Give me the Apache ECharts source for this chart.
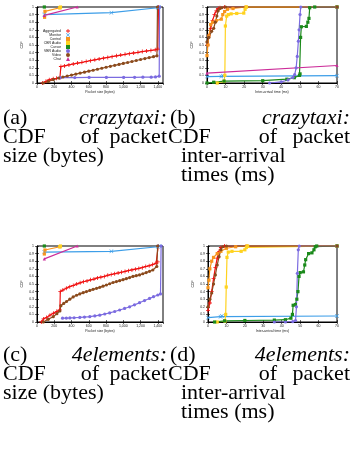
<!DOCTYPE html>
<html>
<head>
<meta charset="utf-8">
<script src="https://cdn.jsdelivr.net/npm/echarts@6/dist/echarts.min.js"></script>
<style>
  html, body { margin: 0; padding: 0; background: #fff; }
  #chart { width: 353px; height: 450px; }
</style>
</head>
<body>
<div id="chart"></div>
<script>
const seriesNames = ['Aggregated', 'Monitor', 'Control', 'CBR Audio', 'Cursor', 'VBR Audio', 'Video', 'Chat'];
const seriesColors = ['#f01010', '#3d9ee8', '#f7941d', '#ffd21f', '#1b8a1b', '#7b6be0', '#8b4a1c', '#cc2c99'];

// (a) crazytaxi, packet size (bytes)
const taxiSizeAggregated = [[65,0],[104,0.022],[142,0.043],[188,0.057],[227,0.061],[265,0.065],[277,0.217],[320,0.225],[370,0.238],[420,0.25],[470,0.262],[520,0.272],[570,0.283],[620,0.294],[670,0.305],[720,0.316],[770,0.327],[820,0.337],[870,0.347],[920,0.357],[970,0.367],[1020,0.377],[1070,0.386],[1120,0.395],[1170,0.404],[1220,0.413],[1270,0.421],[1320,0.429],[1370,0.437],[1400,0.445],[1408,1]];
const taxiSizeMonitor = [[85,0.9],[862,0.925],[1400,0.99],[1412,1]];
const taxiSizeControl = [[88,0.865],[92,0.943],[265,0.99]];
const taxiSizeCbrAudio = [[265,0.99],[272,1]];
const taxiSizeCursor = [[85,1]];
const taxiSizeVbrAudio = [[270,0.07],[438,0.072],[604,0.073],[804,0.073],[1004,0.074],[1131,0.075],[1227,0.076],[1323,0.077],[1373,0.08],[1416,0.09],[1420,1]];
const taxiSizeVideo = [[73,0],[130,0.02],[190,0.045],[250,0.066],[300,0.079],[350,0.092],[400,0.104],[450,0.117],[500,0.13],[550,0.143],[600,0.156],[650,0.168],[700,0.181],[750,0.194],[800,0.207],[850,0.22],[900,0.232],[950,0.245],[1000,0.258],[1050,0.27],[1100,0.283],[1150,0.296],[1200,0.309],[1250,0.322],[1300,0.334],[1350,0.347],[1390,0.357],[1396,1]];
const taxiSizeChat = [[85,0.89],[465,1]];

// (b) crazytaxi, inter-arrival time (ms)
const taxiTimeAggregated = [[0.3,0.5],[1,0.62],[2,0.72],[3,0.82],[4,0.9],[5,0.95],[6,0.98],[7,0.99],[9.5,1],[70,1]];
const taxiTimeMonitor = [[0,0.085],[7.7,0.087],[8.5,0.097],[70,0.097]];
const taxiTimeControl = [[0,0.36],[0.5,0.5],[1,0.62],[2,0.77],[3,0.8],[5,0.82],[7.7,0.84],[8.5,0.9],[9.5,0.94],[11,0.97],[14,0.98],[21,1],[70,1]];
const taxiTimeCbrAudio = [[5.5,0],[9.2,0.02],[9.6,0.1],[9.9,0.75],[10.6,0.88],[11.5,0.9],[13,0.91],[16,0.915],[19.8,0.92],[20.5,0.97],[21.2,1],[70,1]];
const taxiTimeCursor = [[0,0],[3.6,0.01],[9.2,0.025],[30,0.03],[43,0.05],[47,0.07],[49.8,0.1],[50.1,0.12],[50.4,0.6],[50.8,0.74],[53.5,0.745],[54.3,0.8],[54.9,0.85],[55.3,0.99],[58,1],[70,1]];
const taxiTimeVbrAudio = [[33.7,0],[40,0.015],[43.6,0.04],[46.3,0.075],[47.2,0.11],[48,0.2],[48.6,0.35],[49.2,0.55],[49.6,0.7],[50.1,0.9],[50.5,1],[70,1]];
const taxiTimeVideo = [[0,0.54],[1,0.6],[2.5,0.68],[3.6,0.72],[4.5,0.8],[5.3,0.88],[6,0.95],[7,0.98],[8,0.99],[10,1],[70,1]];
const taxiTimeChat = [[0,0.13],[70,0.23]];

// (c) 4elements, packet size (bytes)
const elemSizeAggregated = [[50,0],[75,0.04],[110,0.06],[150,0.09],[190,0.115],[230,0.14],[265,0.16],[270,0.4],[300,0.42],[340,0.445],[380,0.465],[420,0.48],[460,0.5],[500,0.515],[540,0.53],[580,0.54],[620,0.555],[660,0.565],[700,0.58],[740,0.59],[780,0.6],[820,0.615],[860,0.625],[900,0.635],[940,0.645],[980,0.655],[1020,0.665],[1060,0.675],[1100,0.685],[1140,0.695],[1180,0.705],[1220,0.715],[1260,0.73],[1300,0.74],[1340,0.755],[1380,0.775],[1400,0.79],[1405,1]];
const elemSizeMonitor = [[85,0.92],[862,0.93],[1400,0.99],[1420,1]];
const elemSizeControl = [[85,0.895],[92,0.947],[265,0.99]];
const elemSizeCbrAudio = [[265,0.99],[272,1]];
const elemSizeCursor = [[85,1]];
const elemSizeVbrAudio = [[296,0.05],[340,0.052],[381,0.053],[430,0.056],[496,0.06],[550,0.065],[612,0.07],[670,0.08],[727,0.09],[785,0.105],[842,0.12],[900,0.138],[958,0.158],[1015,0.178],[1073,0.2],[1130,0.226],[1188,0.254],[1246,0.282],[1304,0.31],[1350,0.333],[1400,0.355],[1431,0.37],[1438,1]];
const elemSizeVideo = [[73,0],[130,0.035],[188,0.07],[230,0.11],[265,0.145],[277,0.215],[310,0.245],[342,0.27],[380,0.3],[419,0.33],[458,0.352],[496,0.37],[535,0.386],[573,0.4],[612,0.415],[650,0.43],[690,0.443],[727,0.456],[765,0.472],[804,0.487],[842,0.503],[881,0.52],[920,0.532],[958,0.544],[997,0.557],[1035,0.57],[1073,0.585],[1112,0.6],[1150,0.61],[1188,0.62],[1226,0.635],[1265,0.65],[1304,0.667],[1342,0.684],[1388,0.73],[1398,1]];
const elemSizeChat = [[85,0.83],[465,1]];

// (d) 4elements, inter-arrival time (ms)
const elemTimeAggregated = [[0,0.15],[1,0.25],[2,0.4],[3,0.57],[4,0.72],[5,0.84],[6,0.93],[7,0.98],[9,1],[70,1]];
const elemTimeMonitor = [[0,0.057],[6.8,0.07],[7.5,0.079],[70,0.079]];
const elemTimeControl = [[0,0.45],[0.5,0.55],[1,0.7],[2,0.8],[3,0.85],[5,0.9],[7,0.93],[10,0.97],[15,0.99],[21,1],[70,1]];
const elemTimeCbrAudio = [[5,0],[9.2,0.01],[9.6,0.1],[9.9,0.46],[10.3,0.85],[11,0.92],[13,0.93],[18,0.93],[20,0.95],[20.8,0.98],[21.5,1],[70,1]];
const elemTimeCursor = [[3.6,0],[9,0.015],[20,0.02],[36,0.025],[42,0.03],[45,0.05],[45.8,0.1],[46.2,0.22],[47.4,0.23],[48.2,0.3],[48.8,0.4],[49.4,0.6],[50,0.65],[51.8,0.66],[52.5,0.75],[53,0.82],[54.6,0.9],[56.4,0.91],[57.5,0.95],[58.2,0.99],[59,1],[70,1]];
const elemTimeVbrAudio = [[36,0],[42,0],[46,0.005],[47.5,0.02],[48,0.2],[48.5,0.64],[49,0.95],[49.5,1],[70,1]];
const elemTimeVideo = [[0,0.2],[1,0.3],[2,0.38],[3,0.5],[4,0.62],[5,0.75],[6,0.86],[7,0.95],[8,0.99],[10,1],[70,1]];
const elemTimeChat = [];

const plots = [
  [taxiSizeAggregated, taxiSizeMonitor, taxiSizeControl, taxiSizeCbrAudio, taxiSizeCursor, taxiSizeVbrAudio, taxiSizeVideo, taxiSizeChat],
  [taxiTimeAggregated, taxiTimeMonitor, taxiTimeControl, taxiTimeCbrAudio, taxiTimeCursor, taxiTimeVbrAudio, taxiTimeVideo, taxiTimeChat],
  [elemSizeAggregated, elemSizeMonitor, elemSizeControl, elemSizeCbrAudio, elemSizeCursor, elemSizeVbrAudio, elemSizeVideo, elemSizeChat],
  [elemTimeAggregated, elemTimeMonitor, elemTimeControl, elemTimeCbrAudio, elemTimeCursor, elemTimeVbrAudio, elemTimeVideo, elemTimeChat]
];

const plusPath = 'path://M4,0H6V4H10V6H6V10H4V6H0V4H4Z';
const crossPath = 'path://M1,0L5,4L9,0L10,1L6,5L10,9L9,10L5,6L1,10L0,9L4,5L0,1Z';
const symbols = [plusPath, crossPath, 'rect', 'rect', 'rect', 'circle', 'circle', 'triangle'];

const grids = [
  { left: 37, top: 7, width: 126, height: 76 },
  { left: 207, top: 7, width: 130, height: 76 },
  { left: 37, top: 246, width: 126, height: 76 },
  { left: 208, top: 246, width: 129, height: 76 }
];
const isSize = [true, false, true, false];

const tickFont = { fontSize: 3.5, color: '#222', fontFamily: 'Liberation Sans' };
const tickStyle = { inside: true, length: 2, lineStyle: { color: '#000', width: 0.6 } };

const xAxes = [], yAxes = [];
grids.forEach((g, i) => {
  xAxes.push({
    type: 'value', gridIndex: i, min: 0, max: isSize[i] ? 1460 : 70, interval: isSize[i] ? 200 : 10,
    name: isSize[i] ? 'Packet size (bytes)' : 'Inter-arrival time (ms)',
    nameLocation: 'middle', nameGap: 7, nameTextStyle: tickFont,
    axisLine: { lineStyle: { color: '#000', width: 1 } },
    axisTick: tickStyle,
    axisLabel: Object.assign({ margin: 2, showMaxLabel: !isSize[i] }, tickFont),
    splitLine: { show: false }
  });
  yAxes.push({
    type: 'value', gridIndex: i, min: 0, max: 1, interval: 0.1,
    name: 'CDF', nameLocation: 'middle', nameGap: 13, nameTextStyle: tickFont,
    axisLine: { lineStyle: { color: '#000', width: 1 } },
    axisTick: tickStyle,
    axisLabel: Object.assign({ margin: 3 }, tickFont),
    splitLine: { show: false }
  });
});
// mirrored tick marks on top and right edges, like gnuplot
grids.forEach((g, i) => {
  xAxes.push({
    type: 'value', gridIndex: i, position: 'top', min: 0, max: isSize[i] ? 1460 : 70,
    interval: isSize[i] ? 200 : 10,
    axisLine: { show: false }, axisLabel: { show: false }, splitLine: { show: false },
    axisTick: tickStyle
  });
  yAxes.push({
    type: 'value', gridIndex: i, position: 'right', min: 0, max: 1, interval: 0.1,
    axisLine: { show: false }, axisLabel: { show: false }, splitLine: { show: false },
    axisTick: tickStyle
  });
});

const series = [];
plots.forEach((sets, gi) => {
  sets.forEach((data, si) => {
    series.push({
      name: seriesNames[si],
      type: 'line',
      xAxisIndex: gi,
      yAxisIndex: gi,
      data: data,
      symbol: symbols[si],
      symbolSize: si === 0 || si === 1 ? 4 : 3.2,
      showAllSymbol: true,
      lineStyle: { width: 1.2, color: seriesColors[si] },
      itemStyle: { color: seriesColors[si] },
      animation: false,
      silent: true
    });
  });
});

const serif = 'Liberation Serif';
const capSize = 22;
function word(text, x, y, align, italic) {
  return {
    type: 'text', x: x, y: y,
    style: {
      text: text, fill: '#000', font: (italic ? 'italic ' : '') + capSize + 'px "' + serif + '"',
      align: align, verticalAlign: 'middle'
    }
  };
}
function captionBlock(label1, label2, name, y0) {
  const dy = 19;
  return [
    word(label1, 3, y0, 'left'),
    word(name, 167, y0, 'right', true),
    word('CDF', 3, y0 + dy, 'left'),
    word('of', 90, y0 + dy, 'center'),
    word('packet', 167, y0 + dy, 'right'),
    word('size (bytes)', 3, y0 + 2 * dy, 'left'),
    word(label2, 170, y0, 'left'),
    word(name, 350, y0, 'right', true),
    word('CDF', 168, y0 + dy, 'left'),
    word('of', 268, y0 + dy, 'center'),
    word('packet', 350, y0 + dy, 'right'),
    word('inter-arrival', 181, y0 + 2 * dy, 'left'),
    word('times (ms)', 181, y0 + 3 * dy, 'left')
  ];
}

const chart = echarts.init(document.getElementById('chart'), null, { renderer: 'canvas' });
chart.setOption({
  backgroundColor: '#fff',
  animation: false,
  grid: grids.map(g => Object.assign({ show: true, borderColor: '#000', borderWidth: 1, backgroundColor: 'transparent' }, g)),
  xAxis: xAxes,
  yAxis: yAxes,
  legend: {
    orient: 'vertical',
    right: 283,
    top: 29,
    padding: 0,
    align: 'right',
    itemWidth: 4,
    itemHeight: 4,
    itemGap: 0,
    selectedMode: false,
    textStyle: { fontSize: 3.5, lineHeight: 4, color: '#222', fontFamily: 'Liberation Sans' },
    data: seriesNames.map((n, i) => ({ name: n, icon: symbols[i] }))
  },
  series: series,
  graphic: [].concat(
    captionBlock('(a)', '(b)', 'crazytaxi:', 118),
    captionBlock('(c)', '(d)', '4elements:', 355)
  )
});
</script>
</body>
</html>
